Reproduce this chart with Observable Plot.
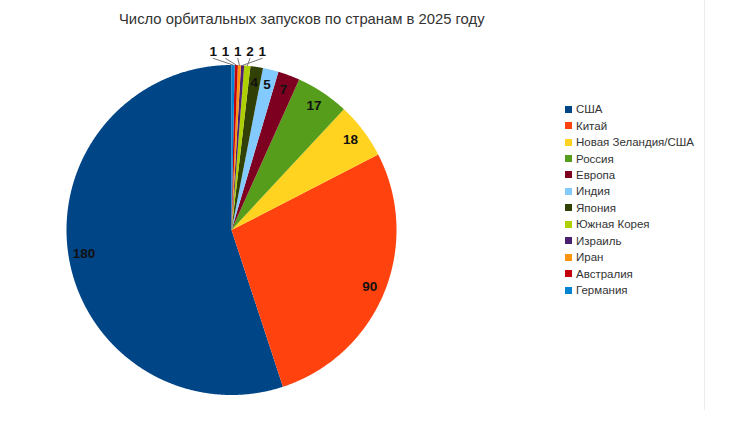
<!DOCTYPE html>
<html>
<head>
<meta charset="utf-8">
<script src="https://cdn.jsdelivr.net/npm/d3@7"></script>
<script src="https://cdn.jsdelivr.net/npm/@observablehq/plot@0.6"></script>
<style>
  html, body { margin: 0; padding: 0; background: #fff; }
  body { width: 730px; height: 433px; position: relative; overflow: hidden; font-family: "Liberation Sans", Arial, sans-serif; }
  #title { position: absolute; left: 119px; top: 11px; font-size: 14.8px; line-height: 16px; color: #333; white-space: nowrap; }
  #chart { position: absolute; left: 0; top: 40px; }
  #legend { position: absolute; left: 565px; top: 101px; font-size: 11.5px; color: #333; }
  .row { display: flex; align-items: center; height: 16.45px; white-space: nowrap; }
  .sw { width: 7px; height: 7px; margin-right: 4px; flex: none; }
  #frame { position: absolute; left: 704px; top: 0; width: 1px; height: 410px; background: #ececec; }
</style>
</head>
<body>
<div id="title"></div>
<div id="chart"></div>
<div id="legend"></div>
<div id="frame"></div>
<script>
const title = "Число орбитальных запусков по странам в 2025 году";
const countries = ["США","Китай","Новая Зеландия/США","Россия","Европа","Индия","Япония","Южная Корея","Израиль","Иран","Австралия","Германия"];
const launches = [180, 90, 18, 17, 7, 5, 4, 2, 1, 1, 1, 1];
const colors = ["#004586","#ff420e","#ffd320","#579d1c","#7e0021","#83caff","#314004","#aecf00","#4b1f6f","#ff950e","#c5000b","#0084d1"];
// order in which the tiny slices' labels are laid out above the pie (left to right)
const outsideOrder = ["Германия","Австралия","Иран","Южная Корея","Израиль"];

document.getElementById("title").textContent = title;

const data = countries.map((c, i) => ({country: c, value: launches[i]}));
const arcs = d3.pie().sort(null).value(d => d.value)(data);

// counterclockwise from 12 o'clock (y up)
const pt = (a, r) => [-Math.sin(a) * r, Math.cos(a) * r];

const polys = [];
arcs.forEach(a => {
  const c = a.data.country;
  polys.push({country: c, x: 0, y: 0});
  const n = Math.max(2, Math.ceil((a.endAngle - a.startAngle) / 0.005));
  for (let k = 0; k <= n; k++) {
    const ang = a.startAngle + (a.endAngle - a.startAngle) * k / n;
    const [x, y] = pt(ang, 1);
    polys.push({country: c, x, y});
  }
  polys.push({country: c, x: 0, y: 0});
});

const inside = [], outside = [], leaders = [];
arcs.forEach(a => {
  const mid = (a.startAngle + a.endAngle) / 2;
  if (a.data.value >= 4) {
    const [x, y] = pt(mid, 0.905);
    inside.push({label: String(a.data.value), x, y});
  }
});
outsideOrder.forEach((c, i) => {
  const a = arcs.find(d => d.data.country === c);
  const mid = (a.startAngle + a.endAngle) / 2;
  const lx = -0.11 + i * 0.074, ly = 1.079;
  outside.push({label: String(a.data.value), x: lx, y: ly});
  const [ex, ey] = pt(mid, 1.0);
  leaders.push({id: c, x: lx, y: 1.04});
  leaders.push({id: c, x: ex, y: ey});
});

const R = 165, cx = 231, cy = 229.5 - 40, W = 730, H = 393;
const plot = Plot.plot({
  width: W,
  height: H,
  marginLeft: cx - R,
  marginRight: W - (cx + R),
  marginTop: cy - R,
  marginBottom: H - (cy + R),
  x: {domain: [-1, 1], axis: null},
  y: {domain: [-1, 1], axis: null},
  color: {type: "ordinal", domain: countries, range: colors},
  style: {fontFamily: "'Liberation Sans', Arial, sans-serif", background: "transparent", overflow: "visible"},
  marks: [
    Plot.line(polys, {x: "x", y: "y", z: "country", fill: "country", stroke: "none", curve: "linear"}),
    Plot.line(leaders, {x: "x", y: "y", z: "id", stroke: "#777", strokeWidth: 1}),
    Plot.text(inside, {x: "x", y: "y", text: "label", fontSize: 13.5, fontWeight: "bold", fill: "#111"}),
    Plot.text(outside, {x: "x", y: "y", text: "label", fontSize: 13.5, fontWeight: "bold", fill: "#111"})
  ]
});
document.getElementById("chart").appendChild(plot);

const legend = document.getElementById("legend");
countries.forEach((c, i) => {
  const row = document.createElement("div");
  row.className = "row";
  const sw = document.createElement("span");
  sw.className = "sw";
  sw.style.background = plot.scale("color").apply(c);
  const t = document.createElement("span");
  t.textContent = c;
  row.appendChild(sw);
  row.appendChild(t);
  legend.appendChild(row);
});
</script>
</body>
</html>
